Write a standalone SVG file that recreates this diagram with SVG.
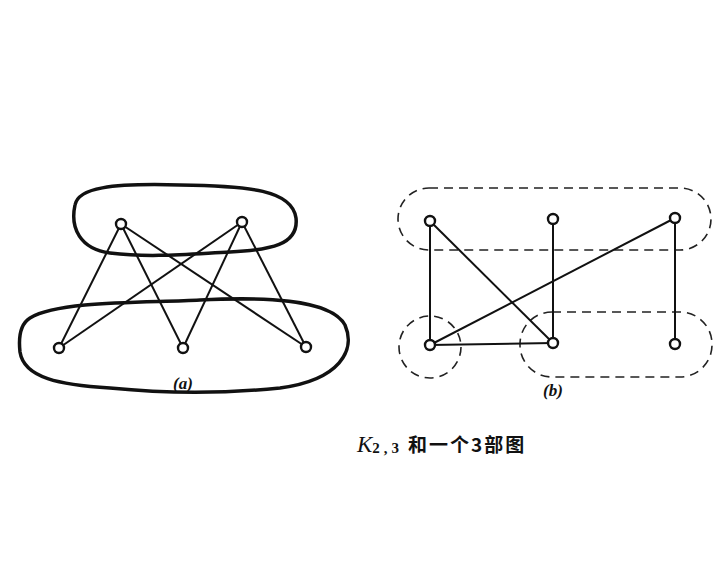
<svg xmlns="http://www.w3.org/2000/svg" width="722" height="569" viewBox="0 0 722 569">
<style>
.edge{stroke:#111;stroke-width:2;fill:none}
.node{fill:#fff;stroke:#111;stroke-width:2.4}
.blob{fill:none;stroke:#111;stroke-width:3.5;stroke-linejoin:round}
.dash{fill:none;stroke:#222;stroke-width:1.6;stroke-dasharray:9,6}
.lbl{font-family:"Liberation Serif",serif;font-weight:bold;font-style:italic;font-size:17px;fill:#111}
</style>
<rect width="722" height="569" fill="#fff"/>
<g id="parts-a">
<path class="blob" d="M75,205 C78,188 110,183 180,185 C250,186 292,190 296,218 C299,245 270,250 230,252 C190,254 150,258 110,253 C80,249 70,228 75,205 Z"/>
<path class="blob" d="M30,318 C60,300 150,303 200,300 C260,297 330,298 345,325 C356,350 340,380 280,388 C230,393 170,394 110,388 C60,385 24,378 20,352 C18,334 22,323 30,318 Z"/>
</g>
<g id="parts-b">
<rect class="dash" x="398" y="188" width="313" height="62" rx="31"/>
<circle class="dash" cx="430" cy="347" r="31"/>
<rect class="dash" x="520" y="312" width="192" height="65" rx="32"/>
</g>
<g id="connectors">
<line class="edge" x1="121" y1="224" x2="59" y2="348"/>
<line class="edge" x1="121" y1="224" x2="183" y2="348"/>
<line class="edge" x1="121" y1="224" x2="306" y2="347"/>
<line class="edge" x1="242" y1="222" x2="59" y2="348"/>
<line class="edge" x1="242" y1="222" x2="183" y2="348"/>
<line class="edge" x1="242" y1="222" x2="306" y2="347"/>
<line class="edge" x1="430" y1="221" x2="430" y2="345"/>
<line class="edge" x1="430" y1="221" x2="553" y2="343"/>
<line class="edge" x1="553" y1="219" x2="553" y2="343"/>
<line class="edge" x1="675" y1="218" x2="430" y2="345"/>
<line class="edge" x1="675" y1="218" x2="675" y2="344"/>
<line class="edge" x1="430" y1="345" x2="553" y2="343"/>
</g>
<g id="a1"><circle class="node" cx="121" cy="224" r="5"/></g>
<g id="a2"><circle class="node" cx="242" cy="222" r="5"/></g>
<g id="a3"><circle class="node" cx="59" cy="348" r="5"/></g>
<g id="a4"><circle class="node" cx="183" cy="348" r="5"/></g>
<g id="a5"><circle class="node" cx="306" cy="347" r="5"/></g>
<g id="b1"><circle class="node" cx="430" cy="221" r="5"/></g>
<g id="b2"><circle class="node" cx="553" cy="219" r="5"/></g>
<g id="b3"><circle class="node" cx="675" cy="218" r="5"/></g>
<g id="b4"><circle class="node" cx="430" cy="345" r="5"/></g>
<g id="b5"><circle class="node" cx="553" cy="343" r="5"/></g>
<g id="b6"><circle class="node" cx="675" cy="344" r="5"/></g>
<text class="lbl" x="183" y="389" text-anchor="middle">(a)</text>
<text class="lbl" x="553" y="396" text-anchor="middle">(b)</text>
<text x="357" y="452" font-family="'Liberation Serif','Noto Sans CJK SC',serif" font-size="23" fill="#111"><tspan font-style="italic">K</tspan><tspan font-size="15" dy="1" letter-spacing="4" font-weight="bold">2,3</tspan><tspan dy="-1" x="408" font-family="'Noto Sans CJK SC',sans-serif" font-size="19" font-weight="bold" letter-spacing="2">和一个3部图</tspan></text>
</svg>
